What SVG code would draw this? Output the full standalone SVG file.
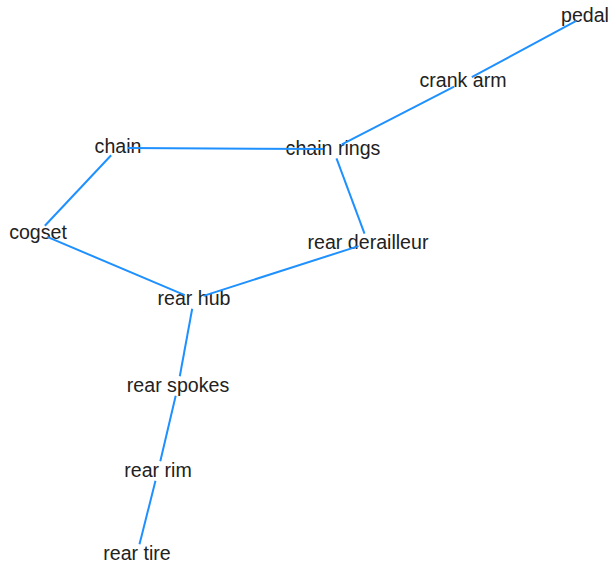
<svg xmlns="http://www.w3.org/2000/svg" width="610" height="569" viewBox="0 0 610 569">
<style>
.lbl{font-family:"Liberation Sans",Arial,sans-serif;font-size:19.6px;fill:#222;text-anchor:middle}
.edge{stroke:#1e90ff;stroke-width:2;fill:none}
</style>
<rect width="610" height="569" fill="#fff"/>
<g id="nodes">
<g id="pedal"><text class="lbl" x="585" y="22">pedal</text></g>
<g id="crank-arm"><text class="lbl" x="463" y="87">crank arm</text></g>
<g id="chain"><text class="lbl" x="118" y="153">chain</text></g>
<g id="chain-rings"><text class="lbl" x="333" y="155">chain rings</text></g>
<g id="cogset"><text class="lbl" x="38" y="239">cogset</text></g>
<g id="rear-derailleur"><text class="lbl" x="368" y="249">rear derailleur</text></g>
<g id="rear-hub"><text class="lbl" x="194" y="305">rear hub</text></g>
<g id="rear-spokes"><text class="lbl" x="178" y="392">rear spokes</text></g>
<g id="rear-rim"><text class="lbl" x="158" y="477">rear rim</text></g>
<g id="rear-tire"><text class="lbl" x="137" y="560">rear tire</text></g>
</g>
<g id="connectors">
<line class="edge" x1="576.2" y1="20.8" x2="471.8" y2="77.2"/>
<line class="edge" x1="454.1" y1="86.6" x2="341.9" y2="144.4"/>
<line class="edge" x1="323" y1="148.95" x2="128" y2="148.05"/>
<line class="edge" x1="111.15" y1="155.28" x2="44.85" y2="225.72"/>
<line class="edge" x1="47.21" y1="236.9" x2="184.79" y2="295.1"/>
<line class="edge" x1="336.5" y1="158.4" x2="364.5" y2="233.6"/>
<line class="edge" x1="358.5" y1="246.1" x2="203.5" y2="295.9"/>
<line class="edge" x1="192.2" y1="308.8" x2="179.8" y2="376.2"/>
<line class="edge" x1="175.7" y1="395.7" x2="160.3" y2="461.3"/>
<line class="edge" x1="155.5" y1="480.7" x2="139.5" y2="544.3"/>
</g>
</svg>
